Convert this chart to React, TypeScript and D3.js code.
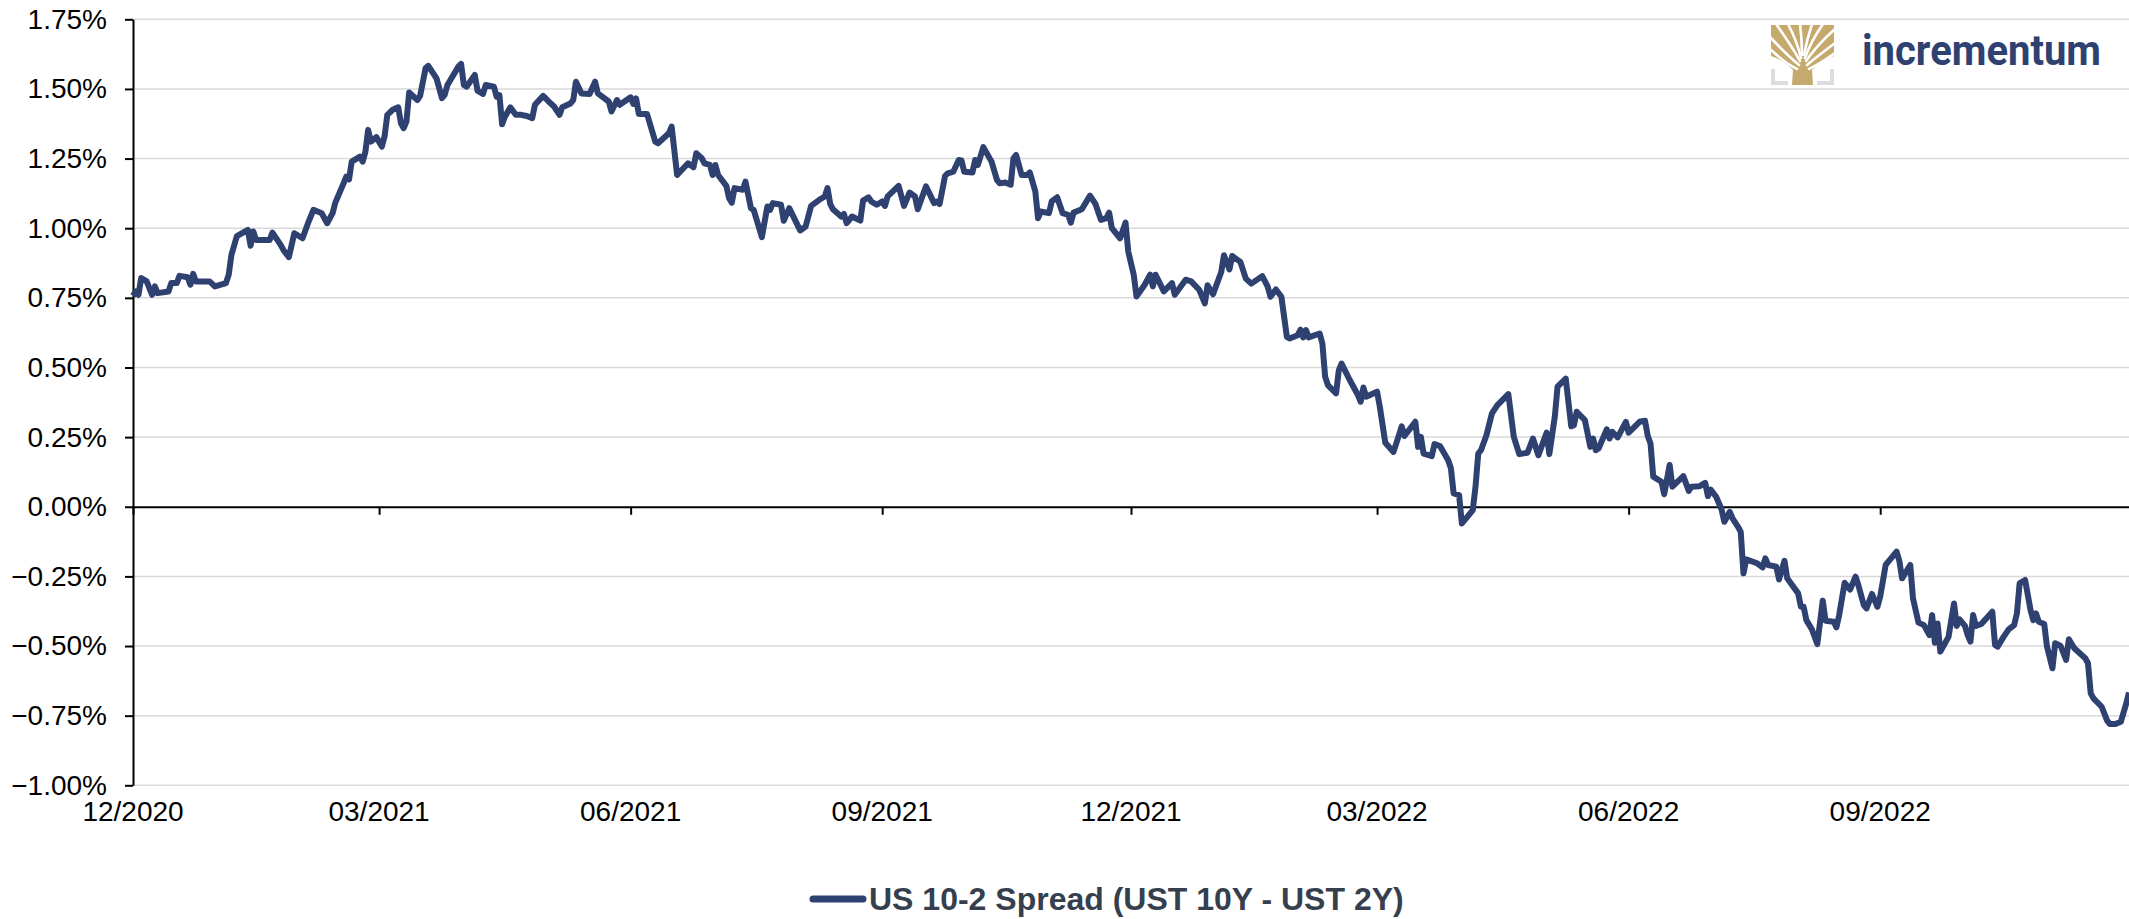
import React, { useEffect, useRef } from "react";
import * as d3 from "d3";

// series runs from 1 Dec 2020; x values are days counted from that date
const seriesStart = "2020-12-01";
const seriesEnd = "2022-12-01";

const daysFromStart = [
  0, 1, 2, 3, 5, 7, 8, 9, 13, 14, 16, 17, 20, 21, 22, 23, 28, 30, 34, 35, 36, 38, 42, 43, 44, 45, 50, 51, 54, 55,
  57, 59, 62, 64, 66, 69, 71, 73, 74, 77, 78, 79, 80, 83, 84, 85, 86, 87, 89, 91, 92, 93, 95, 97, 98, 99, 100, 101,
  104, 105, 107, 108, 111, 113, 114, 115, 119, 120, 121, 122, 125, 126, 128, 129, 132, 133, 134, 135, 136, 138, 140,
  142, 144, 146, 147, 150, 152, 154, 156, 157, 160, 161, 162, 164, 167, 169, 170, 174, 175, 177, 178, 182, 183, 184,
  185, 188, 191, 192, 196, 197, 199, 203, 205, 206,
  208, 209, 211, 212, 213, 214, 217, 218, 219, 220, 223, 224, 226, 227, 230, 232, 233, 234, 237, 238, 240, 244, 246,
  248, 251, 253, 254, 255, 256, 259, 260, 261, 263, 266, 267, 269, 270, 272, 274, 275, 276, 280, 282, 284, 286, 287,
  290, 293, 294, 295, 297, 298, 300, 302, 303, 304, 307, 308, 309, 311, 314, 316, 317, 319, 321, 322, 323, 325, 327,
  328, 330, 331, 332, 335, 336, 338, 340, 342, 343, 344, 347, 350, 352, 354, 356, 357, 358, 361, 363, 364, 366, 367,
  370, 372, 373, 374, 377, 380, 381, 385, 387,
  390, 392, 393, 395, 398, 399, 401, 402, 405, 407, 409, 413, 415, 416, 418, 420, 422, 423, 426, 427, 428, 429, 430,
  434, 435, 436, 437, 440, 441, 442, 445, 448, 449, 450, 451, 455, 456, 458, 461, 463, 464, 465, 469, 470, 471, 472,
  475, 476, 478, 481, 482, 483, 485, 486, 488, 490, 491, 492, 493, 495, 497, 499, 503, 505, 507, 510, 512, 514, 517,
  518, 520, 521, 524, 526, 527, 528, 531, 533, 534, 535,
  536, 539, 540, 541, 543, 546, 547, 551, 553, 554, 555, 556, 559, 560, 562, 563, 567, 569, 570, 573, 575, 576, 577,
  579, 581, 582, 584, 585, 587, 588, 589, 590, 594, 596, 597, 598, 601, 602, 604, 605, 609, 610, 611, 612, 614, 616,
  618, 619, 622, 623, 624, 626, 628, 630, 631, 633, 634, 636, 638, 639, 641, 645, 646, 647, 650, 651, 653, 655, 657,
  658, 659, 660, 661, 664, 666, 667, 668, 670, 671, 672, 673, 674, 676, 680, 681, 682, 684, 686, 688, 689, 690, 692,
  694, 695, 696, 697, 699, 700, 702, 703, 705, 707, 708, 710, 714, 715, 716, 717, 720, 722, 723, 725, 727, 729, 730,
];

const spreadValues = [
  0.757, 0.773, 0.761, 0.821, 0.809, 0.761, 0.791, 0.767, 0.773, 0.803, 0.803, 0.829, 0.824, 0.797, 0.836, 0.809,
  0.809, 0.791, 0.803, 0.833, 0.904, 0.972, 0.994, 0.937, 0.988, 0.958, 0.958, 0.984, 0.94, 0.922,
  0.896, 0.982, 0.964, 1.018, 1.066, 1.054, 1.018, 1.054, 1.092, 1.161, 1.185, 1.175, 1.239, 1.257, 1.239, 1.275,
  1.353, 1.311, 1.327, 1.293, 1.329, 1.407, 1.425, 1.434, 1.377, 1.359, 1.383, 1.487,
  1.46, 1.475, 1.574, 1.583, 1.538, 1.467, 1.479, 1.514, 1.58, 1.59, 1.514, 1.508, 1.55, 1.494, 1.482, 1.514, 1.508,
  1.472, 1.478, 1.373, 1.4, 1.434, 1.407,
  1.407, 1.403, 1.395, 1.443, 1.475, 1.455, 1.437, 1.407, 1.434, 1.448, 1.46, 1.526, 1.484, 1.482, 1.526, 1.484,
  1.455, 1.419, 1.46, 1.443, 1.47, 1.446, 1.466,
  1.41, 1.41, 1.311, 1.305, 1.341, 1.365, 1.191, 1.233, 1.219, 1.269,
  1.251, 1.233, 1.227, 1.191, 1.227, 1.191, 1.152, 1.108, 1.092, 1.144, 1.138, 1.167, 1.072, 1.066, 0.968, 1.078,
  1.066, 1.09, 1.084, 1.027, 1.072, 0.992, 1.006,
  1.08, 1.102, 1.114, 1.144, 1.087, 1.068, 1.042, 1.051, 1.018, 1.042, 1.027, 1.099, 1.111, 1.096, 1.084, 1.096,
  1.08, 1.114, 1.152, 1.08, 1.128, 1.114, 1.068,
  1.15, 1.09, 1.096, 1.087, 1.188, 1.197, 1.203, 1.245, 1.243, 1.203, 1.2, 1.245, 1.227, 1.291, 1.239, 1.173, 1.161,
  1.164, 1.156, 1.251, 1.263, 1.191, 1.191,
  1.2, 1.132, 1.036, 1.06, 1.054, 1.096, 1.111, 1.054, 1.048, 1.02, 1.056, 1.068, 1.117, 1.087, 1.03, 1.036, 1.056,
  1.0, 0.964, 1.02, 0.916, 0.833, 0.755,
  0.797, 0.833, 0.791, 0.833, 0.773, 0.803, 0.761, 0.815, 0.809,
  0.778, 0.73, 0.795, 0.763, 0.843, 0.903, 0.852, 0.9, 0.879, 0.819, 0.801, 0.828, 0.79, 0.754, 0.78, 0.754, 0.61,
  0.604, 0.616, 0.636, 0.608, 0.634, 0.608,
  0.622, 0.586, 0.467, 0.437, 0.407, 0.49, 0.514, 0.455, 0.401, 0.377, 0.428, 0.395, 0.413, 0.359, 0.23, 0.197,
  0.257, 0.289, 0.254, 0.305, 0.215, 0.251, 0.191,
  0.182, 0.225, 0.218, 0.167, 0.138, 0.048, 0.042, -0.06, -0.036, -0.012, 0.072, 0.191, 0.203, 0.257, 0.335, 0.365,
  0.404, 0.251, 0.189, 0.194, 0.245, 0.185, 0.266,
  0.189, 0.323, 0.431, 0.46, 0.289, 0.293, 0.341, 0.311, 0.215, 0.245, 0.203,
  0.209, 0.278, 0.245, 0.269, 0.249, 0.305, 0.266, 0.305, 0.309, 0.254, 0.227, 0.108, 0.09, 0.045, 0.15, 0.072, 0.11,
  0.057, 0.072, 0.074, 0.086, 0.038, 0.062,
  0.036, -0.01, -0.054, -0.018, -0.042, -0.072, -0.09, -0.239, -0.189, -0.203, -0.218, -0.185, -0.209, -0.215,
  -0.261, -0.194, -0.257, -0.311, -0.359, -0.359, -0.407, -0.44, -0.493,
  -0.337, -0.409, -0.413, -0.433, -0.389, -0.273, -0.297, -0.251, -0.281, -0.353, -0.365, -0.313, -0.359, -0.323,
  -0.209, -0.161, -0.194, -0.257, -0.209, -0.329, -0.416, -0.425, -0.461,
  -0.389, -0.488, -0.419, -0.52, -0.467, -0.347, -0.428, -0.404, -0.428, -0.461, -0.484, -0.389, -0.428, -0.421,
  -0.377, -0.496, -0.502, -0.469, -0.44, -0.425, -0.383, -0.275, -0.263,
  -0.371, -0.407, -0.383, -0.413, -0.421, -0.502, -0.58, -0.49, -0.5, -0.55, -0.476, -0.508, -0.544, -0.562, -0.67,
  -0.688, -0.718, -0.768, -0.78, -0.78, -0.772, -0.706, -0.667,
];

const xTickDates = [
  "2020-12-01", "2021-03-01", "2021-06-01", "2021-09-01",
  "2021-12-01", "2022-03-01", "2022-06-01", "2022-09-01",
];
const xTickLabels = ["12/2020", "03/2021", "06/2021", "09/2021", "12/2021", "03/2022", "06/2022", "09/2022"];
const yTicks = [-1, -0.75, -0.5, -0.25, 0, 0.25, 0.5, 0.75, 1, 1.25, 1.5, 1.75];
const legendLabel = "US 10-2 Spread (UST 10Y - UST 2Y)";
const brandName = "incrementum";

const W = 2129;
const H = 919;
const FONT = "'Liberation Sans', Arial, sans-serif";
const NAVY = "#2e4170";
const GOLD = "#c6a96c";

export default function App() {
  const ref = useRef<SVGSVGElement>(null);

  useEffect(() => {
    const svg = d3.select(ref.current);
    svg.selectAll("*").remove();

    const parse = d3.utcParse("%Y-%m-%d");
    const start = parse(seriesStart) as Date;
    const data = daysFromStart.map((d, i) => ({
      date: d3.utcDay.offset(start, d),
      value: spreadValues[i],
    }));

    const x = d3.scaleUtc().domain([start, parse(seriesEnd) as Date]).range([133, W]);
    const y = d3.scaleLinear().domain([-1, 1.75]).range([785.3, 19.3]);
    const fmt = (v: number) => d3.format(".2f")(v) + "%";

    // gridlines
    svg.append("g")
      .selectAll("line")
      .data(yTicks.filter((t) => t !== 0))
      .join("line")
      .attr("x1", x.range()[0])
      .attr("x2", x.range()[1])
      .attr("y1", (d) => y(d))
      .attr("y2", (d) => y(d))
      .attr("stroke", "#d9d9d9")
      .attr("stroke-width", 1.5);

    // y axis
    const yAxis = d3.axisLeft(y).tickValues(yTicks).tickSize(8).tickSizeOuter(0).tickPadding(18).tickFormat((d) => fmt(+d));
    const yG = svg.append("g").attr("transform", `translate(${x.range()[0]},0)`).call(yAxis);
    yG.select(".domain").attr("stroke", "#000").attr("stroke-width", 2);
    yG.selectAll(".tick line").attr("stroke", "#000").attr("stroke-width", 2);
    yG.selectAll("text").attr("font-size", 28).attr("font-family", FONT).attr("fill", "#000");

    // x axis on the zero line, labels below the plot
    const xDates = xTickDates.map((s) => parse(s) as Date);
    const xAxis = d3.axisBottom(x).tickValues(xDates).tickSize(8).tickSizeOuter(0).tickFormat(() => "");
    const xG = svg.append("g").attr("transform", `translate(0,${y(0)})`).call(xAxis);
    xG.select(".domain").attr("stroke", "#000").attr("stroke-width", 2);
    xG.selectAll(".tick line").attr("stroke", "#000").attr("stroke-width", 2);

    svg.append("g")
      .selectAll("text")
      .data(xDates)
      .join("text")
      .attr("x", (d) => x(d))
      .attr("y", 821)
      .attr("text-anchor", "middle")
      .attr("font-size", 28)
      .attr("font-family", FONT)
      .attr("fill", "#000")
      .text((_, i) => xTickLabels[i]);

    // series
    const line = d3.line<{ date: Date; value: number }>()
      .x((d) => x(d.date))
      .y((d) => y(d.value));
    svg.append("path")
      .datum(data)
      .attr("d", line)
      .attr("fill", "none")
      .attr("stroke", NAVY)
      .attr("stroke-width", 6)
      .attr("stroke-linejoin", "round");

    // legend
    const lg = svg.append("g").attr("transform", "translate(813,899)");
    lg.append("line").attr("x1", 0).attr("x2", 50).attr("stroke", NAVY).attr("stroke-width", 7).attr("stroke-linecap", "round");
    lg.append("text")
      .attr("x", 56)
      .attr("y", 11)
      .attr("font-size", 32)
      .attr("font-weight", "bold")
      .attr("font-family", FONT)
      .attr("fill", "#363f4e")
      .text(legendLabel);

    // logo: gold canopy cut by white gaps, trunk, grey corner brackets
    const logo = svg.append("g").attr("transform", "translate(1771,25)");
    logo.append("path")
      .attr("d", "M0,0 H63 V31 Q50,35 41,45 L42,60 H21 L22,45 Q13,35 0,31 Z")
      .attr("fill", GOLD);
    const gaps = [
      "M29,36 Q20,20 5,-1",
      "M30,33 Q26,16 17,-1",
      "M31,30 Q31,14 29,-1",
      "M33,30 Q36,14 41,-1",
      "M34,33 Q40,16 52,-1",
      "M35,36 Q46,20 64,4",
      "M28,40 Q16,30 -1,12",
      "M36,40 Q48,30 64,18",
      "M26,44 Q14,38 -1,24",
      "M38,44 Q50,38 64,28",
    ];
    logo.append("g")
      .selectAll("path")
      .data(gaps)
      .join("path")
      .attr("d", (d) => d)
      .attr("fill", "none")
      .attr("stroke", "#fff")
      .attr("stroke-width", 2.6)
      .attr("stroke-linecap", "round");
    logo.append("path").attr("d", "M2,44 V58 H17").attr("fill", "none").attr("stroke", "#dcdce0").attr("stroke-width", 4);
    logo.append("path").attr("d", "M61,44 V58 H46").attr("fill", "none").attr("stroke", "#dcdce0").attr("stroke-width", 4);
    svg.append("text")
      .attr("x", 1862)
      .attr("y", 65)
      .attr("font-size", 42)
      .attr("font-weight", 700)
      .attr("font-family", "Roboto, 'Noto Sans', sans-serif")
      .attr("fill", NAVY)
      .attr("textLength", 239)
      .attr("lengthAdjust", "spacingAndGlyphs")
      .text(brandName);
  }, []);

  return (
    <svg
      ref={ref}
      width={W}
      height={H}
      style={{ position: "absolute", left: 0, top: 0, background: "#fff" }}
    />
  );
}
